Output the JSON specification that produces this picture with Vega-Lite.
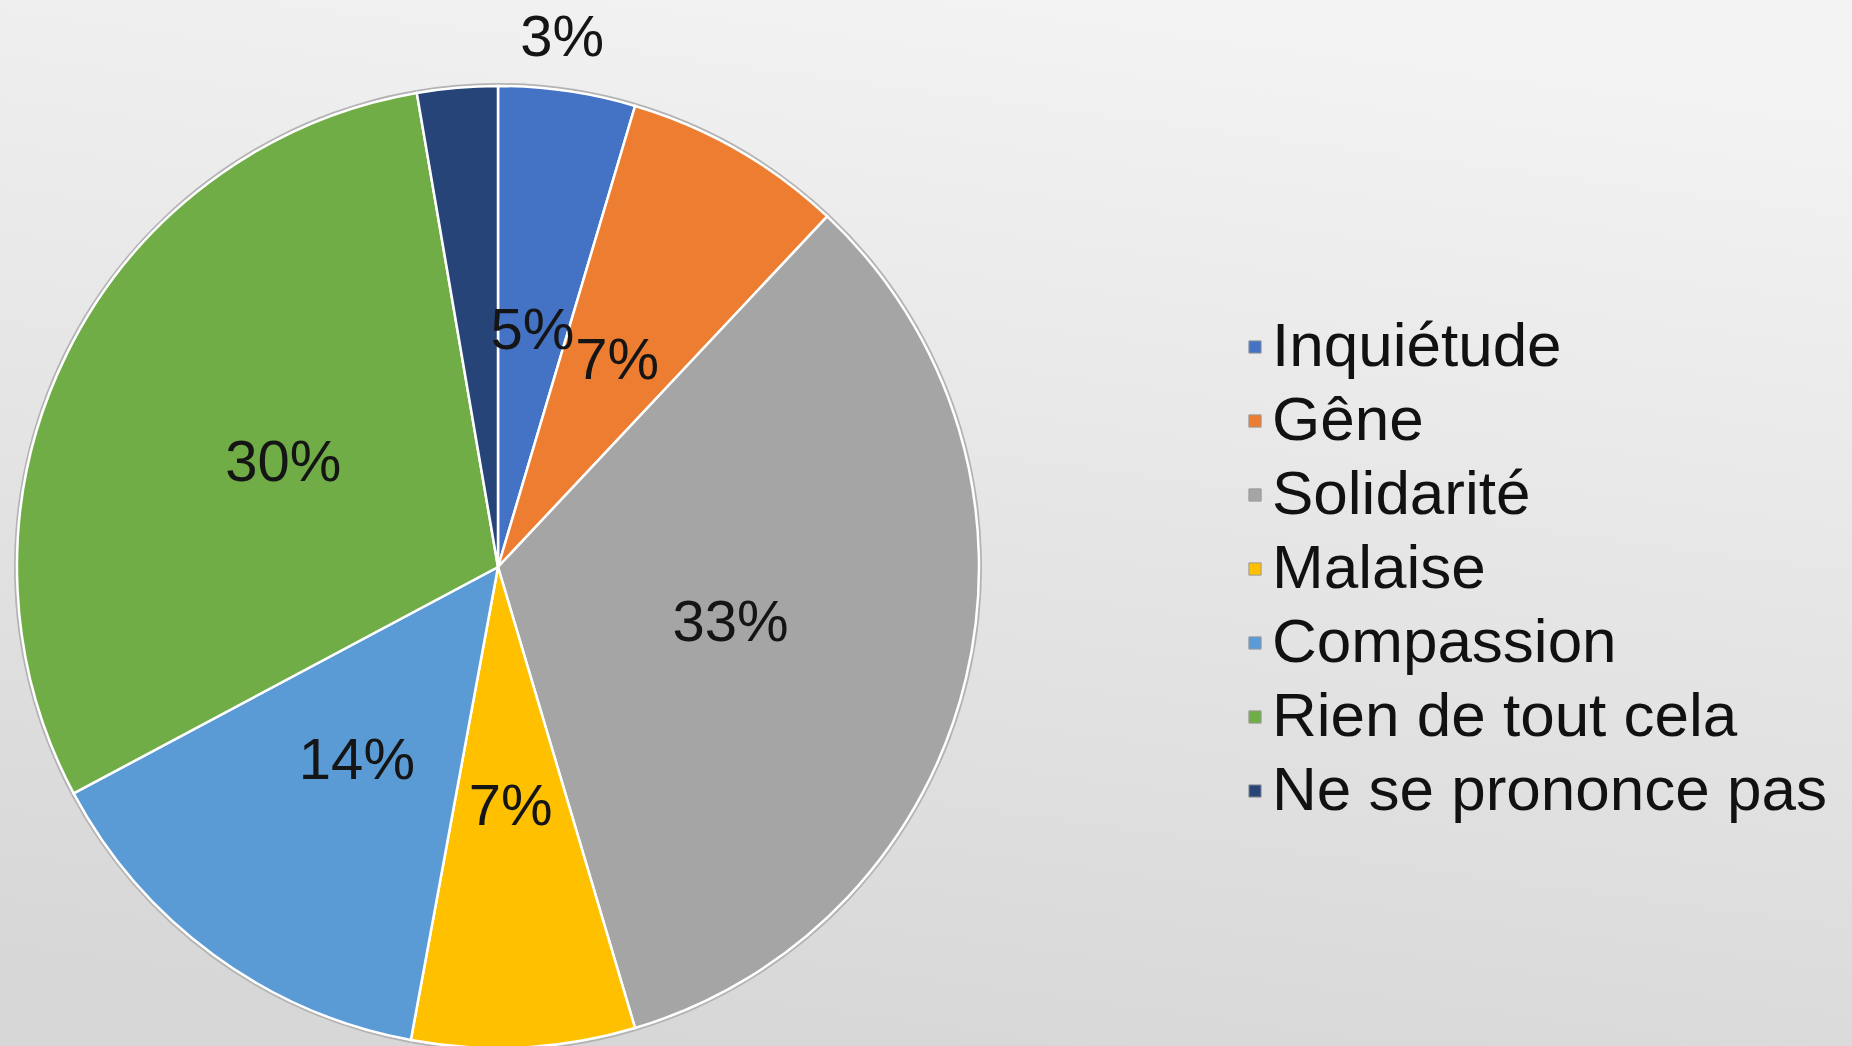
{
  "$schema": "https://vega.github.io/schema/vega-lite/v6.json",
  "width": 1852,
  "height": 1046,
  "autosize": {"type": "none"},
  "padding": 0,
  "background": "#e6e6e6",
  "view": {
    "stroke": null,
    "fill": {
      "gradient": "linear",
      "x1": 0.62, "y1": 0, "x2": 0.38, "y2": 1,
      "stops": [
        {"offset": 0, "color": "#f3f3f3"},
        {"offset": 1, "color": "#d7d7d7"}
      ]
    }
  },
  "config": {
    "text": {"font": "Liberation Sans"}
  },
  "data": {
    "values": [
      {"i": 1, "cat": "Inquiétude", "value": 4.6, "label": "5%"},
      {"i": 2, "cat": "Gêne", "value": 7.4, "label": "7%"},
      {"i": 3, "cat": "Solidarité", "value": 33.4, "label": "33%"},
      {"i": 4, "cat": "Malaise", "value": 7.5, "label": "7%"},
      {"i": 5, "cat": "Compassion", "value": 14.3, "label": "14%"},
      {"i": 6, "cat": "Rien de tout cela", "value": 30.1, "label": "30%"},
      {"i": 7, "cat": "Ne se prononce pas", "value": 2.7, "label": "3%"}
    ]
  },
  "encoding": {
    "theta": {"field": "value", "type": "quantitative", "stack": true},
    "order": {"field": "i", "type": "quantitative"}
  },
  "layer": [
    {
      "mark": {"type": "arc", "radius": 484, "xOffset": -428, "yOffset": 44, "fill": "#b3b3b3"}
    },
    {
      "mark": {"type": "arc", "radius": 481, "xOffset": -428, "yOffset": 44, "stroke": "#ffffff", "strokeWidth": 2.5},
      "encoding": {
        "color": {
          "field": "cat",
          "type": "nominal",
          "sort": null,
          "scale": {
            "domain": ["Inquiétude", "Gêne", "Solidarité", "Malaise", "Compassion", "Rien de tout cela", "Ne se prononce pas"],
            "range": ["#4472C4", "#ED7D31", "#A5A5A5", "#FFC000", "#5B9BD5", "#70AD47", "#264478"]
          },
          "legend": {
            "title": null,
            "orient": "none",
            "legendX": 1224,
            "legendY": 316,
            "padding": 0,
            "labelFont": "Liberation Sans",
            "labelFontSize": 62,
            "labelColor": "#111111",
            "labelLimit": 1000,
            "labelOffset": -14,
            "symbolType": "square",
            "symbolSize": 150,
            "symbolStrokeColor": "#9a9a9a",
            "symbolStrokeWidth": 1,
            "rowPadding": 12
          }
        }
      }
    },
    {
      "mark": {"type": "text", "radius": 239, "xOffset": -428, "yOffset": 46, "fontSize": 58, "color": "#151515", "font": "Liberation Sans"},
      "encoding": {
        "text": {"condition": {"test": "datum.i < 7", "field": "label"}, "value": ""}
      }
    },
    {
      "mark": {"type": "text", "radius": 530, "xOffset": -428, "yOffset": 44, "dx": 109, "fontSize": 58, "color": "#151515", "font": "Liberation Sans"},
      "encoding": {
        "text": {"condition": {"test": "datum.i == 7", "field": "label"}, "value": ""}
      }
    }
  ]
}
